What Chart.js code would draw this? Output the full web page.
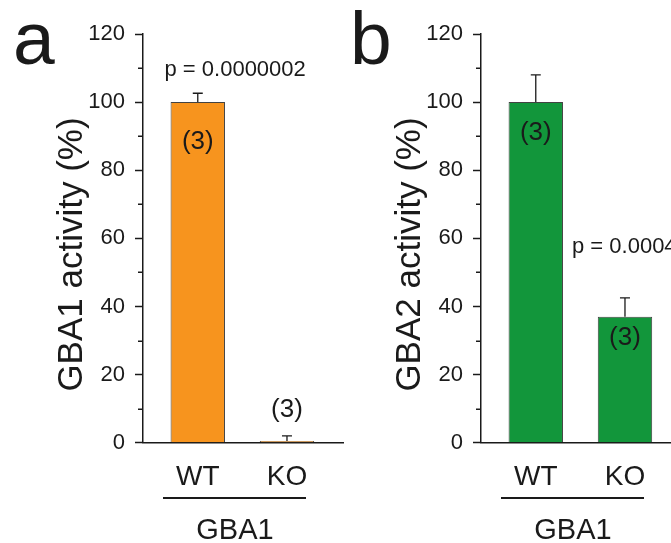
<!DOCTYPE html>
<html>
<head>
<meta charset="utf-8">
<script src="https://cdn.jsdelivr.net/npm/chart.js@4.4.1/dist/chart.umd.min.js"></script>
<style>
  html, body { margin: 0; padding: 0; background: #fff; overflow: hidden; }
  #stage { position: relative; width: 671px; height: 543px; overflow: hidden; }
  #stage canvas { position: absolute; top: 0; }
</style>
</head>
<body>
<div id="stage">
  <canvas id="panelA" width="346" height="543" style="left:0"></canvas>
  <canvas id="panelB" width="346" height="543" style="left:338px"></canvas>
</div>
<script>
// ------------------------
// Data
// ------------------------
const genotypes = ['WT', 'KO'];
const gba1Activity = [100, 0.5];
const gba1Sem = [2.6, 1.5];
const gba2Activity = [100, 37];
const gba2Sem = [8, 5.5];
const sampleSizes = ['(3)', '(3)'];
const yTicks = [0, 20, 40, 60, 80, 100, 120];
const yMinorTicks = [10, 30, 50, 70, 90, 110];

const FONT = '"Liberation Sans", Arial, Helvetica, sans-serif';
const INK = '#1a1a1a';

// ------------------------
// Plugins
// ------------------------

// upper SEM whisker with a small cap
const errorBars = {
    id: 'errorBars',
    afterDatasetsDraw(chart, args, opts) {
        const { ctx, scales: { y } } = chart;
        const meta = chart.getDatasetMeta(0);
        const values = chart.data.datasets[0].data;
        ctx.save();
        ctx.strokeStyle = INK;
        ctx.lineWidth = 1.3;
        meta.data.forEach((bar, i) => {
            const top = y.getPixelForValue(values[i].y + opts.errors[i]);
            ctx.beginPath();
            ctx.moveTo(bar.x, bar.y);
            ctx.lineTo(bar.x, top);
            ctx.moveTo(bar.x - 5, top);
            ctx.lineTo(bar.x + 5, top);
            ctx.stroke();
        });
        ctx.restore();
    }
};

// short unlabeled ticks between the major ones
const minorTicks = {
    id: 'minorTicks',
    afterDraw(chart) {
        const { ctx, scales: { y } } = chart;
        ctx.save();
        ctx.strokeStyle = INK;
        ctx.lineWidth = 1.5;
        yMinorTicks.forEach(v => {
            const py = Math.round(y.getPixelForValue(v)) + 0.25;
            ctx.beginPath();
            ctx.moveTo(y.right - 5, py);
            ctx.lineTo(y.right, py);
            ctx.stroke();
        });
        ctx.restore();
    }
};

// panel letter, axis title, p value, n labels, group bracket
const annotations = {
    id: 'annotations',
    afterDraw(chart, args, opts) {
        const { ctx, scales: { x, y } } = chart;
        ctx.save();
        ctx.fillStyle = INK;
        ctx.textBaseline = 'alphabetic';

        ctx.font = `75px ${FONT}`;
        ctx.textAlign = 'left';
        ctx.fillText(opts.letter, opts.letterX, 63.5);

        ctx.font = `22px ${FONT}`;
        ctx.fillText(opts.pText, opts.pX, opts.pY);

        ctx.font = `26px ${FONT}`;
        ctx.textAlign = 'center';
        sampleSizes.forEach((n, i) => {
            ctx.fillText(n, x.getPixelForValue(i + 1), y.getPixelForValue(opts.nAt[i]));
        });

        ctx.strokeStyle = INK;
        ctx.lineWidth = 2;
        ctx.beginPath();
        ctx.moveTo(163, 498);
        ctx.lineTo(306, 498);
        ctx.stroke();

        ctx.font = `29px ${FONT}`;
        ctx.fillText(opts.group, 235, 538.5);

        ctx.translate(81.5, 254.5);
        ctx.rotate(-Math.PI / 2);
        ctx.font = `35px ${FONT}`;
        ctx.fillText(opts.yTitle, 0, 0);
        ctx.restore();
    }
};

// ------------------------
// Panel builder
// ------------------------
const makePanel = (id, values, errors, color, notes) => new Chart(document.getElementById(id), {
    type: 'bar',
    data: {
        datasets: [{
            data: genotypes.map((g, i) => ({ x: i + 1, y: values[i] })),
            backgroundColor: color,
            borderColor: 'rgba(45,45,45,0.9)',
            borderWidth: 1,
            borderSkipped: 'bottom',
            barPercentage: 0.61,
            categoryPercentage: 1
        }]
    },
    options: {
        responsive: false,
        animation: false,
        events: [],
        layout: { padding: { left: 0, top: 34, right: 3, bottom: 0 } },
        scales: {
            x: {
                type: 'linear',
                min: 0.386,
                max: 2.628,
                offset: false,
                afterBuildTicks: s => { s.ticks = genotypes.map((g, i) => ({ value: i + 1 })); },
                afterFit: s => { s.height = 100.3; },
                border: { display: true, color: INK, width: 1.5 },
                grid: { display: false, drawTicks: false, offset: false },
                ticks: {
                    color: INK,
                    padding: 17.5,
                    autoSkip: false,
                    maxRotation: 0,
                    font: { family: FONT, size: 28 },
                    callback: v => genotypes[v - 1] ?? ''
                }
            },
            y: {
                min: 0,
                max: 120,
                afterBuildTicks: s => { s.ticks = yTicks.map(v => ({ value: v })); },
                afterFit: s => { s.width = 143; },
                border: { display: true, color: INK, width: 1.5 },
                grid: { drawOnChartArea: false, tickLength: 8, tickColor: INK, tickWidth: 1.5 },
                ticks: { color: INK, padding: 10, font: { family: FONT, size: 22 } }
            }
        },
        plugins: {
            legend: { display: false },
            tooltip: { enabled: false },
            errorBars: { errors },
            annotations: notes
        }
    },
    plugins: [errorBars, minorTicks, annotations]
});

makePanel('panelA', gba1Activity, gba1Sem, '#f7941e', {
    letter: 'a', letterX: 13,
    yTitle: 'GBA1 activity (%)',
    pText: 'p = 0.0000002', pX: 164.5, pY: 76,
    nAt: [86.2, 7.4],
    group: 'GBA1'
});

makePanel('panelB', gba2Activity, gba2Sem, '#12963b', {
    letter: 'b', letterX: 12,
    yTitle: 'GBA2 activity (%)',
    pText: 'p = 0.0004', pX: 234, pY: 253.3,
    nAt: [89, 28.7],
    group: 'GBA1'
});
</script>
</body>
</html>
